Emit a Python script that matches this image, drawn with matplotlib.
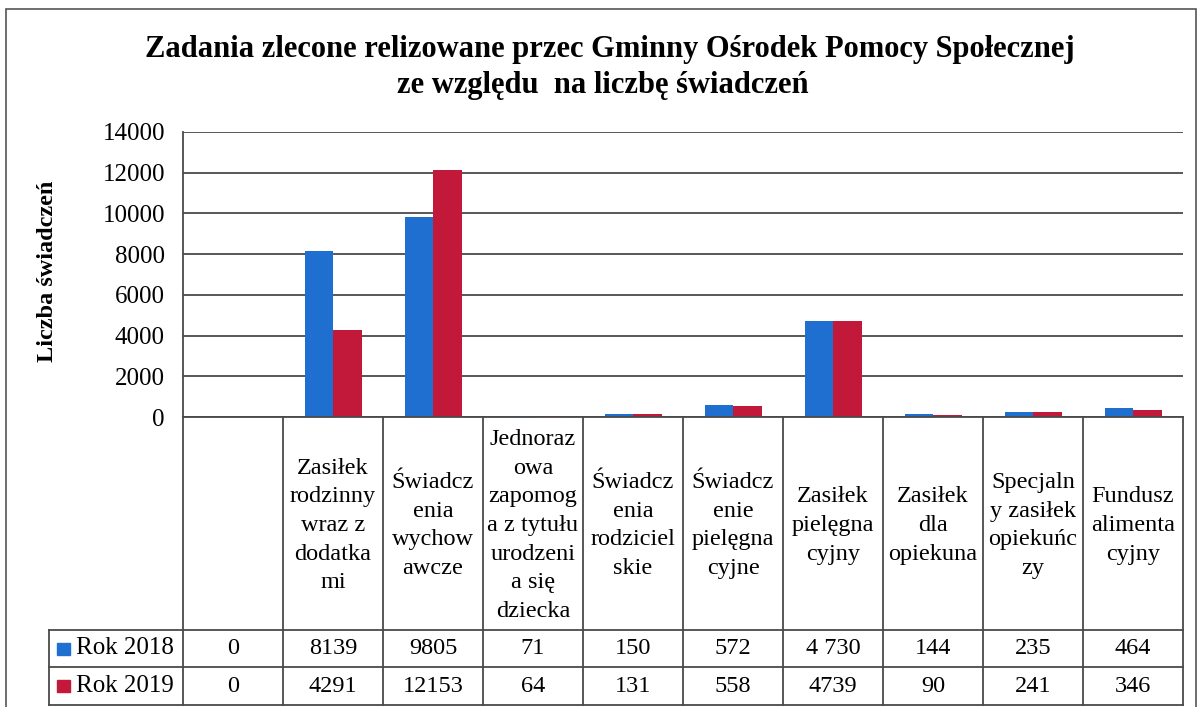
import matplotlib
matplotlib.use("Agg")
import matplotlib.pyplot as plt
from matplotlib.patches import Rectangle

plt.rcParams['font.family'] = ['Liberation Serif', 'DejaVu Serif']

categories = ["",
              "Zasiłek\nrodzinny\nwraz z\ndodatka\nmi",
              "Świadcz\nenia\nwychow\nawcze",
              "Jednoraz\nowa\nzapomog\na z tytułu\nurodzeni\na się\ndziecka",
              "Świadcz\nenia\nrodziciel\nskie",
              "Świadcz\nenie\npielęgna\ncyjne",
              "Zasiłek\npielęgna\ncyjny",
              "Zasiłek\ndla\nopiekuna",
              "Specjaln\ny zasiłek\nopiekuńc\nzy",
              "Fundusz\nalimenta\ncyjny"]
rok2018 = [0, 8139, 9805, 71, 150, 572, 4730, 144, 235, 464]
rok2019 = [0, 4291, 12153, 64, 131, 558, 4739, 90, 241, 346]
rok2018_txt = ["0", "8139", "9805", "71", "150", "572", "4 730", "144", "235", "464"]
rok2019_txt = ["0", "4291", "12153", "64", "131", "558", "4739", "90", "241", "346"]
series_names = ["Rok 2018", "Rok 2019"]
yticks = [0, 2000, 4000, 6000, 8000, 10000, 12000, 14000]

blue = "#1f6fd0"
red = "#c2183a"
grid_c = "#4a4a4a"

W, H = 1200, 707
fig = plt.figure(figsize=(W / 100, H / 100), dpi=100)

# outer frame
fig.add_artist(Rectangle((6 / W, -0.05), 1190 / W, 1.05 - 9 / H, transform=fig.transFigure,
                         fill=False, ec="#555555", lw=1.2))

fig.text(0.508, 1 - 49 / H, "Zadania zlecone relizowane przec Gminny Ośrodek Pomocy Społecznej",
         ha="center", va="center", fontsize=22, fontweight="bold")
fig.text(0.502, 1 - 85 / H, "ze względu  na liczbę świadczeń",
         ha="center", va="center", fontsize=22, fontweight="bold")

# bar chart area
px_l, px_r, px_t, px_b = 183, 1183, 132, 417
ax = fig.add_axes([px_l / W, 1 - px_b / H, (px_r - px_l) / W, (px_b - px_t) / H])
n = len(categories)
x = list(range(n))
bw = 0.285
ax.bar([i - bw / 2 for i in x], rok2018, width=bw, color=blue, zorder=3)
ax.bar([i + bw / 2 for i in x], rok2019, width=bw, color=red, zorder=3)
ax.set_xlim(-0.5, n - 0.5)
ax.set_ylim(0, 14000)
ax.set_yticks(yticks)
ax.set_yticklabels([str(v) for v in yticks], fontsize=18)
ax.tick_params(axis="y", length=0, pad=13)
ax.set_xticks([])
ax.yaxis.grid(True, color=grid_c, lw=1.3, zorder=0)
for s in ["top", "right", "bottom"]:
    ax.spines[s].set_visible(False)
ax.spines["left"].set_color(grid_c)
ax.spines["left"].set_linewidth(1.3)
ax.set_ylabel("Liczba świadczeń", fontsize=17.5, fontweight="bold")
ax.yaxis.set_label_coords(-0.125, 0.51)

# data table below the chart
tb_l, tb_t, tb_b = 49, 417, 705
tax = fig.add_axes([tb_l / W, 1 - tb_b / H, (px_r - tb_l) / W, (tb_b - tb_t) / H])
left_u = -0.5 - (px_l - tb_l) / 100.0
tax.set_xlim(left_u, n - 0.5)
tax.set_ylim(tb_b - tb_t, 0)
tax.axis("off")
hdr, r1, r2 = 213, 250, 288
lc = dict(color=grid_c, lw=1.3, clip_on=False)
for k in range(n + 1):
    tax.plot([k - 0.5, k - 0.5], [0, r2], **lc)
tax.plot([left_u, left_u], [hdr, r2], **lc)
tax.plot([-0.5, n - 0.5], [0, 0], **lc)
for yy in [hdr, r1, r2]:
    tax.plot([left_u, n - 0.5], [yy, yy], **lc)

for i, lab in enumerate(categories):
    tax.text(i, hdr / 2 + 2, lab, ha="center", va="center", fontsize=17.5, linespacing=1.47)
    tax.text(i, (hdr + r1) / 2, rok2018_txt[i], ha="center", va="center", fontsize=17.5)
    tax.text(i, (r1 + r2) / 2, rok2019_txt[i], ha="center", va="center", fontsize=17.5)

for (ya, yb), name, col in zip([(hdr, r1), (r1, r2)], series_names, [blue, red]):
    yc = (ya + yb) / 2
    tax.add_patch(Rectangle((left_u + 0.08, yc - 6), 0.13, 12, color=col, clip_on=False))
    tax.text(left_u + 0.27, yc, name, ha="left", va="center", fontsize=18)

fig.savefig("out.png", dpi=100)
